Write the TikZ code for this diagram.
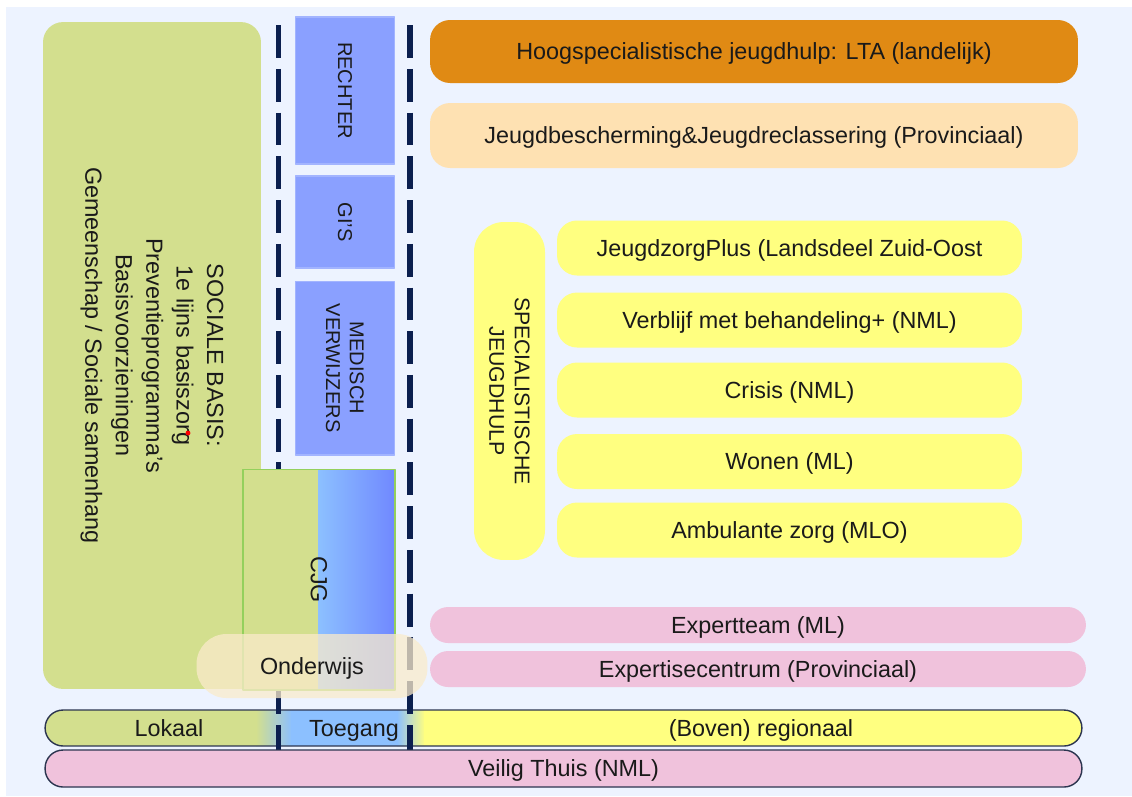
\documentclass[tikz,border=0pt]{standalone}
\usepackage{fontspec}
\setmainfont{Liberation Sans}
\definecolor{bgblue}{HTML}{EDF3FF}
\definecolor{basisgreen}{HTML}{D3DF8E}
\definecolor{boxblue}{HTML}{8AA0FF}
\definecolor{boxedge}{HTML}{A2B4FF}
\definecolor{cjgedge}{HTML}{94D05C}
\definecolor{cjglight}{HTML}{8CC0FF}
\definecolor{cjgdark}{HTML}{7088FF}
\definecolor{togblue}{HTML}{8CC0FF}
\definecolor{ltaorange}{HTML}{E08A14}
\definecolor{jbpeach}{HTML}{FEE1B2}
\definecolor{regyellow}{HTML}{FFFF80}
\definecolor{expink}{HTML}{F0C2DC}
\definecolor{cream}{HTML}{FAEBCB}
\definecolor{sepnavy}{HTML}{0B1F4F}
\definecolor{barline}{HTML}{2C3550}
\definecolor{txtdark}{HTML}{1A1A1A}

\begin{document}
\begin{tikzpicture}[x=0.02cm,y=-0.02cm,line join=round,
  lbl/.style={font=\fontsize{13.3}{16}\selectfont,text=txtdark},
  een/.style={text height=2.1ex,text depth=0.35ex},
  sep/.style={draw=sepnavy,line width=3.4pt,dash pattern=on 18.7pt off 6.2pt},
  blok/.style={lbl,rounded corners=0.4cm,inner sep=0pt,align=center},
  vak/.style={font=\fontsize{11.4}{13.5}\selectfont,text=txtdark,fill=boxblue,draw=boxedge,line width=0.6pt,
    inner sep=0pt,align=center,rotate=-90,minimum height=1.98cm},
  geel/.style={blok,een,fill=regyellow,minimum width=9.3cm,minimum height=1.1cm},
  strook/.style={lbl,een,rounded corners=0.36cm,inner sep=0pt,fill=expink,minimum width=13.12cm,minimum height=0.72cm},
  bar/.style={lbl,een,rounded corners=0.36cm,inner sep=0pt,draw=barline,line width=0.8pt,minimum width=20.74cm,minimum height=0.72cm}]
\useasboundingbox (0,0) rectangle (1132,796);
\fill[bgblue] (6,7) rectangle (1132,796);

% onderste balk: lokaal / toegang / regionaal
\begin{scope}
\clip[rounded corners=0.36cm] (45.5,710) rectangle (1081.5,746);
\fill[basisgreen] (45,710) rectangle (257,746);
\shade[left color=basisgreen,right color=togblue] (256,710) rectangle (292,746);
\fill[togblue] (291,710) rectangle (398,746);
\shade[left color=togblue,right color=regyellow] (397,710) rectangle (425,746);
\fill[regyellow] (424,710) rectangle (1082,746);
\end{scope}
\node[bar] (niveau) at (563.5,728) {};

% scheidingslijnen toegang
\coordinate (sepAtop) at (278.5,25);
\coordinate (sepAbot) at (278.5,750);
\coordinate (sepBtop) at (410,25);
\coordinate (sepBbot) at (410,750);
\draw[sep] (sepAtop) -- (sepAbot);
\draw[sep] (sepBtop) -- (sepBbot);

% sociale basis
\node[blok,fill=basisgreen,rotate=-90,minimum width=13.34cm,minimum height=4.36cm,font=\fontsize{13.3}{17.3}\selectfont] (basis) at (152,355.5) {SOCIALE BASIS:\\1e lijns basiszorg\\Preventieprogramma's\\Basisvoorzieningen\\Gemeenschap / Sociale samenhang};
\fill[red] (188,433) circle (1.4pt);

% verwijzers
\node[vak,minimum width=2.94cm] (rechter) at (345,90.5) {RECHTER};
\node[vak,minimum width=1.84cm] (gis) at (345,222) {GI'S};
\node[vak,minimum width=3.48cm] (medisch) at (345,368) {MEDISCH\\VERWIJZERS};

% CJG
\fill[basisgreen] (243,469) rectangle (318,690);
\shade[left color=cjglight,right color=cjgdark] (318,469) rectangle (395,690);
\node[draw=cjgedge,line width=0.6pt,minimum width=3.04cm,minimum height=4.42cm,inner sep=0pt] (cjg) at (319,579.5) {};
\node[lbl,rotate=-90] (cjglabel) at (cjg.center) {CJG};

% landelijk / provinciaal
\node[blok,een,fill=ltaorange,minimum width=12.96cm,minimum height=1.26cm] (lta) at (754,51.5) {Hoogspecialistische jeugdhulp: LTA (landelijk)};
\node[blok,een,fill=jbpeach,minimum width=12.96cm,minimum height=1.3cm] (jb) at (754,135.5) {Jeugdbescherming\&Jeugdreclassering (Provinciaal)};

% specialistische jeugdhulp
\node[blok,fill=regyellow,rotate=-90,rounded corners=0.6cm,minimum width=6.76cm,minimum height=1.42cm,font=\fontsize{12.1}{14.5}\selectfont] (spec) at (509.5,391) {SPECIALISTISCHE\\JEUGDHULP};
\node[geel] (jzplus) at (789.5,248) {JeugdzorgPlus (Landsdeel Zuid-Oost};
\node[geel] (verblijf) at (789.5,320) {Verblijf met behandeling+ (NML)};
\node[geel] (crisis) at (789.5,390) {Crisis (NML)};
\node[geel] (wonen) at (789.5,461.5) {Wonen (ML)};
\node[geel] (ambulant) at (789.5,530) {Ambulante zorg (MLO)};

% expertise
\node[strook] (expteam) at (758,625) {Expertteam (ML)};
\node[strook] (expcentrum) at (758,669) {Expertisecentrum (Provinciaal)};

% onderwijs
\node[lbl,een,fill=cream,fill opacity=0.75,text opacity=1,rounded corners=0.6cm,minimum width=4.62cm,minimum height=1.28cm,inner sep=0pt] (onderwijs) at (312,666) {Onderwijs};

% veilig thuis
\node[bar,fill=expink,minimum height=0.74cm] (veilig) at (563.5,768.5) {Veilig Thuis (NML)};

\node[lbl,een] (lokaal) at (169,728) {Lokaal};
\node[lbl,een] (toegang) at (354,728) {Toegang};
\node[lbl,een] (regio) at (761,728) {(Boven) regionaal};
\end{tikzpicture}
\end{document}
